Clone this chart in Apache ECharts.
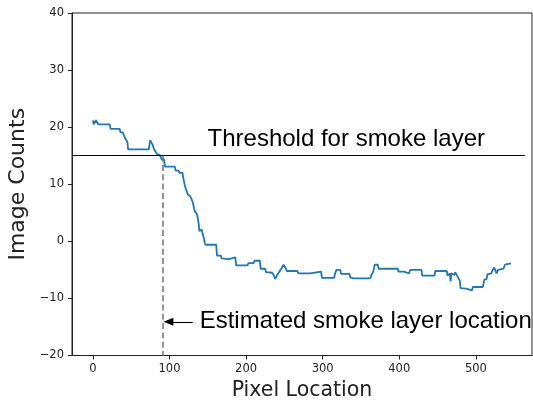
<!DOCTYPE html>
<html>
<head>
<meta charset="utf-8">
<script src="https://cdn.jsdelivr.net/npm/echarts@6/dist/echarts.min.js"></script>
<style>
  html, body { margin: 0; padding: 0; background: #fff; }
  #chart { width: 533px; height: 405px; }
</style>
</head>
<body>
<div id="chart"></div>
<script>
// Vertices of the stepped brightness profile (pixel index, image counts)
const pixelLocation = [
  0, 1, 3, 4, 6, 7, 22, 23, 35, 36, 39, 40, 41, 42, 44, 45, 46, 73, 74, 75,
  77, 78, 80, 82, 84, 87, 88, 89, 90, 93, 94, 107, 108, 112, 113, 117, 118, 119, 120, 121,
  123, 124, 126, 127, 129, 130, 131, 132, 133, 135, 136, 137, 138, 139, 141, 142, 143, 144, 145, 146,
  147, 161, 162, 167, 168, 169, 178, 179, 186, 187, 202, 203, 210, 211, 218, 219, 225, 226, 234, 236,
  238, 239, 241, 243, 245, 247, 249, 250, 252, 253, 267, 268, 284, 285, 298, 299, 315, 316, 318, 323,
  324, 335, 336, 340, 362, 364, 366, 368, 372, 373, 398, 399, 406, 407, 413, 414, 429, 430, 446, 447,
  462, 463, 465, 466, 467, 468, 470, 472, 473, 475, 477, 479, 480, 487, 488, 495, 496, 509, 510, 511,
  514, 515, 520, 522, 524, 526, 527, 529, 530, 536, 538, 541, 544, 546
];
const imageCounts = [
  21.2, 20.5, 20.5, 21.2, 21.2, 20.5, 20.5, 19.7, 19.7, 19.1, 19.1, 18.7, 18.7, 18.1, 18.1, 17.4, 16.1, 16.1, 17.1, 17.7,
  17.7, 16.9, 16.1, 15.8, 15.2, 15.2, 14.9, 14.9, 14.3, 14.3, 13.1, 13.1, 12.4, 12.4, 12.0, 12.0, 11.1, 10.8, 9.8, 9.3,
  9.1, 8.2, 8.1, 7.9, 7.8, 7.0, 6.5, 5.8, 5.3, 5.1, 4.7, 4.0, 3.2, 1.8, 1.8, 2.05, 2.0, 0.9, 0.5, -0.2,
  -0.6, -0.6, -2.5, -2.5, -3.0, -3.1, -3.1, -2.8, -2.8, -4.2, -4.2, -3.8, -3.8, -3.4, -3.4, -4.8, -4.8, -5.4, -5.5, -5.9,
  -6.6, -6.4, -5.8, -5.6, -5.0, -4.8, -4.1, -4.2, -4.8, -5.2, -5.2, -5.6, -5.6, -5.3, -5.3, -6.4, -6.4, -5.7, -5.0, -5.0,
  -5.7, -5.7, -6.3, -6.5, -6.5, -5.8, -5.3, -4.1, -4.1, -4.8, -4.8, -5.3, -5.3, -5.6, -5.6, -5.0, -5.0, -6.0, -6.0, -5.2,
  -5.2, -6.0, -6.0, -5.6, -7.0, -5.6, -5.9, -5.9, -5.4, -5.6, -6.4, -6.9, -8.2, -8.3, -8.6, -8.6, -8.0, -8.0, -7.4, -6.7,
  -6.6, -5.8, -5.6, -5.0, -4.6, -4.9, -5.6, -5.0, -4.8, -4.8, -4.1, -4.0, -3.9, -3.9
];

const xTickValues = [0, 100, 200, 300, 400, 500];
const yTickValues = [-20, -10, 0, 10, 20, 30, 40];

const smokeThreshold = 15;
const estimatedLayerPixel = 91;
const thresholdLabel = 'Threshold for smoke layer';
const estimateLabel = 'Estimated smoke layer location';

// Axis extents (x padded on both sides of the data range)
const xMin = -27.3, xMax = 573.3;
const yMin = yTickValues[0], yMax = yTickValues[yTickValues.length - 1];

// Annotation anchors in data coordinates
const thresholdLineEnd = 564;
const thresholdTextAt = [149.7, 17.8];
const estimateTextAt = [139.4, -14.1];
const arrowTail = [130.3, -14.1];
const arrowHeadCenter = [98.5, -14.1];

const profile = pixelLocation.map((x, i) => [x, imageCounts[i]]);

const axisInk = '#222';
const tickFont = { fontFamily: 'DejaVu Sans', fontSize: 11.5, color: axisInk };
const xNameFont = { fontFamily: 'DejaVu Sans', fontSize: 20.5, color: axisInk };
const yNameFont = { fontFamily: 'DejaVu Sans', fontSize: 22, color: axisInk };
const noteFont = { fontFamily: 'Liberation Sans', fontSize: 24, color: '#000' };
const minusSign = v => String(v).replace('-', '\u2212');

const chart = echarts.init(document.getElementById('chart'), null, { renderer: 'canvas' });

chart.setOption({
  animation: false,
  backgroundColor: '#fff',
  grid: {
    left: 72, top: 13, right: 1, bottom: 49.5,
    containLabel: false, outerBoundsMode: 'none',
    show: true, borderColor: axisInk, borderWidth: 1, backgroundColor: 'transparent'
  },
  xAxis: {
    type: 'value', min: xMin, max: xMax,
    splitLine: { show: false },
    axisLine: { show: true, onZero: false, lineStyle: { color: axisInk, width: 1 } },
    axisTick: { show: true, customValues: xTickValues, length: 4, lineStyle: { color: axisInk } },
    axisLabel: Object.assign({ customValues: xTickValues, margin: 8, formatter: minusSign }, tickFont),
    name: 'Pixel Location', nameLocation: 'middle', nameGap: 24, nameTextStyle: xNameFont
  },
  yAxis: {
    type: 'value', min: yMin, max: yMax, interval: 10,
    splitLine: { show: false },
    axisLine: { show: true, onZero: false, lineStyle: { color: axisInk, width: 1 } },
    axisTick: { show: true, length: 4, lineStyle: { color: axisInk } },
    axisLabel: Object.assign({ margin: 8, formatter: minusSign }, tickFont),
    name: 'Image Counts', nameLocation: 'middle', nameGap: 40, nameTextStyle: yNameFont
  },
  series: [
    {
      type: 'line',
      data: profile,
      showSymbol: false,
      symbol: 'none',
      lineStyle: { color: '#1f77b4', width: 1.8 },
      silent: true,
      z: 3
    },
    {
      // threshold, estimate marker and the arrow pointing at it
      type: 'line',
      data: [],
      silent: true,
      z: 4,
      markLine: {
        silent: true,
        animation: false,
        label: { show: false },
        emphasis: { disabled: true },
        data: [
          [
            { coord: [xMin, smokeThreshold], symbol: 'none', lineStyle: { color: '#000', width: 1.1, type: 'solid' } },
            { coord: [thresholdLineEnd, smokeThreshold], symbol: 'none' }
          ],
          [
            { coord: [estimatedLayerPixel, smokeThreshold], symbol: 'none', lineStyle: { color: '#707070', width: 1.5, type: [6, 3.3] } },
            { coord: [estimatedLayerPixel, yMin], symbol: 'none' }
          ],
          [
            { coord: arrowTail, symbol: 'none', lineStyle: { color: '#000', width: 1.1, type: 'solid' } },
            { coord: arrowHeadCenter, symbol: 'triangle', symbolSize: [8, 10] }
          ]
        ]
      },
      markPoint: {
        silent: true,
        animation: false,
        symbol: 'circle',
        symbolSize: 0,
        itemStyle: { color: 'transparent' },
        data: [
          { coord: thresholdTextAt, label: Object.assign({ show: true, position: 'right', distance: 0, formatter: thresholdLabel }, noteFont) },
          { coord: estimateTextAt, label: Object.assign({ show: true, position: 'right', distance: 0, formatter: estimateLabel }, noteFont) }
        ]
      }
    }
  ]
});
</script>
</body>
</html>
